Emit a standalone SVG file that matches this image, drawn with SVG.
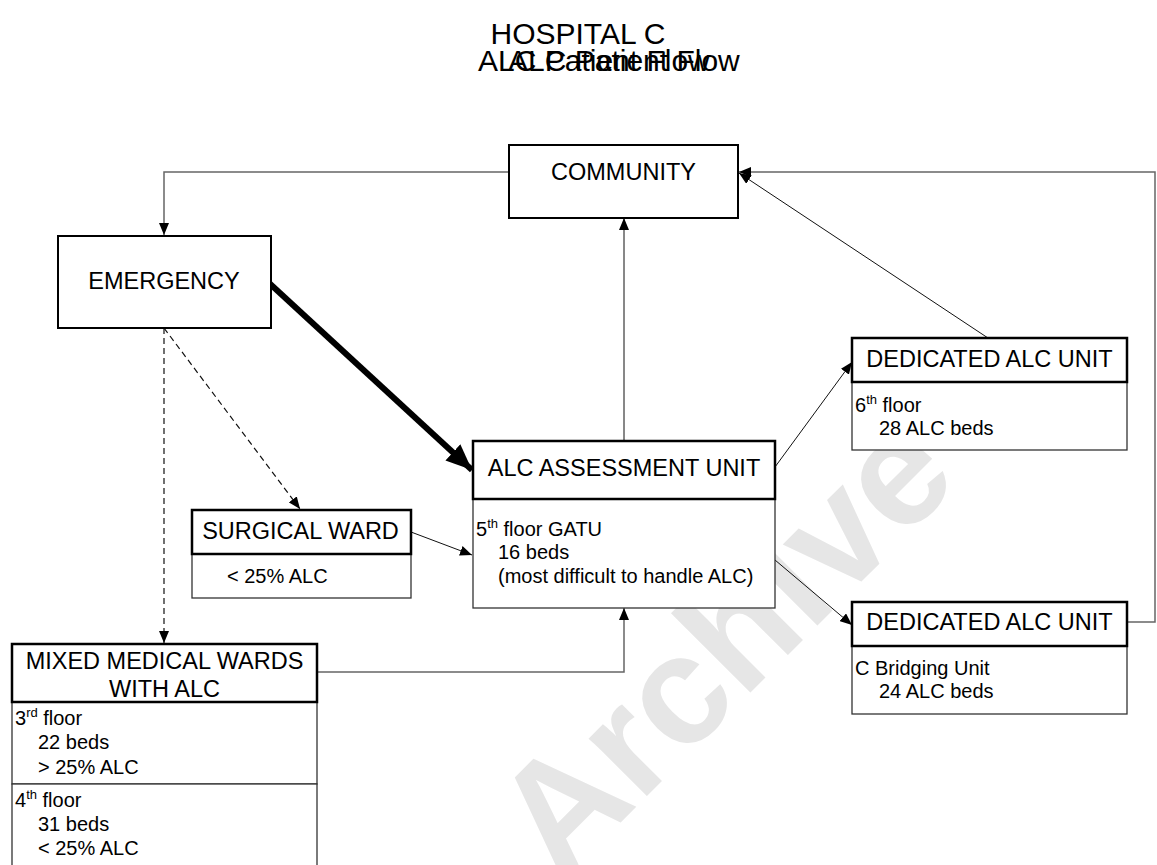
<svg xmlns="http://www.w3.org/2000/svg" width="1157" height="865" viewBox="0 0 1157 865">
  <defs>
    <style>
      text { font-family: "Liberation Sans", Arial, sans-serif; fill: #000; }
      .title { font-size: 30px; }
      .head { font-size: 23.5px; text-anchor: middle; }
      .body { font-size: 20px; }
      .sup { font-size: 13px; }
      .mark { font-family: "Liberation Sans", Arial, sans-serif; font-weight: bold; font-size: 155px; fill: #e6e6e6; }
      .hbox { fill: #fff; stroke: #000; stroke-width: 2.5; }
      .bbox { fill: #fff; stroke: #333; stroke-width: 1.3; }
      .nbox { fill: #fff; stroke: #000; stroke-width: 2; }
      .ln { fill: none; stroke: #111; stroke-width: 1; }
      .gl { fill: none; stroke: #666; stroke-width: 1.5; }
      .dl { fill: none; stroke: #111; stroke-width: 1.2; stroke-dasharray: 6 4; }
      .tk { fill: none; stroke: #000; stroke-width: 6; }
    </style>
    <marker id="arr" markerUnits="userSpaceOnUse" markerWidth="12" markerHeight="10" viewBox="0 0 12 10" refX="12" refY="5" orient="auto">
      <path d="M0,0 L12,5 L0,10 z" fill="#000"/>
    </marker>
    <marker id="arrBig" markerUnits="userSpaceOnUse" markerWidth="26" markerHeight="22" viewBox="0 0 26 22" refX="26" refY="11" orient="auto">
      <path d="M0,0 L26,11 L0,22 z" fill="#000"/>
    </marker>
  </defs>

  <rect width="1157" height="865" fill="#fff"/>

  <!-- background stamp -->
  <text class="mark" transform="translate(560,883) rotate(-45)">Archive</text>

  <!-- heading -->
  <g id="title">
    <text class="title" x="578" y="44" text-anchor="middle">HOSPITAL C</text>
    <text class="title" x="478" y="71">ALC Patient Flow</text>
    <text class="title" x="508" y="71">ALC Patient Flow</text>
  </g>

  <!-- connectors -->
  <g id="connectors">
    <path class="gl" d="M509,172 H164 V235" marker-end="url(#arr)"/>
    <line class="tk" x1="268" y1="282" x2="472" y2="470" marker-end="url(#arrBig)"/>
    <path class="dl" d="M164,328 V643" marker-end="url(#arr)"/>
    <path class="dl" d="M164,328 L300,509" marker-end="url(#arr)"/>
    <line class="ln" x1="411" y1="532" x2="472" y2="555" marker-end="url(#arr)"/>
    <path class="gl" d="M317,672 H624 V608" marker-end="url(#arr)"/>
    <line class="ln" x1="624" y1="441" x2="624" y2="218" marker-end="url(#arr)"/>
    <line class="ln" x1="775" y1="467" x2="852" y2="362" marker-end="url(#arr)"/>
    <line class="ln" x1="988" y1="338" x2="739" y2="173" marker-end="url(#arr)"/>
    <line class="ln" x1="775" y1="560" x2="852" y2="625" marker-end="url(#arr)"/>
    <path class="gl" d="M1127,622 H1155 V172 H739" marker-end="url(#arr)"/>
  </g>

  <g id="community">
    <rect class="nbox" x="509" y="145" width="229" height="73"/>
    <text class="head" x="623.5" y="180">COMMUNITY</text>
  </g>

  <g id="emergency">
    <rect class="nbox" x="58" y="236" width="213" height="92"/>
    <text class="head" x="164" y="289">EMERGENCY</text>
  </g>

  <g id="alc-assessment">
    <rect class="bbox" x="473" y="499" width="302" height="109"/>
    <rect class="hbox" x="473" y="441" width="302" height="58"/>
    <text class="head" x="624" y="476">ALC ASSESSMENT UNIT</text>
    <text class="body" x="476" y="536">5<tspan class="sup" dy="-8">th</tspan><tspan dy="8"> floor GATU</tspan></text>
    <text class="body" x="498" y="559">16 beds</text>
    <text class="body" x="498" y="583">(most difficult to handle ALC)</text>
  </g>

  <g id="surgical-ward">
    <rect class="bbox" x="192" y="554" width="219" height="44"/>
    <rect class="hbox" x="192" y="510" width="219" height="44"/>
    <text class="head" x="300.5" y="539">SURGICAL WARD</text>
    <text class="body" x="227" y="583">&lt; 25% ALC</text>
  </g>

  <g id="mixed-medical">
    <rect class="bbox" x="12" y="702" width="305" height="82"/>
    <rect class="bbox" x="12" y="784" width="305" height="90"/>
    <rect class="hbox" x="12" y="644" width="305" height="58"/>
    <text class="head" x="164.5" y="669">MIXED MEDICAL WARDS</text>
    <text class="head" x="164.5" y="697">WITH ALC</text>
    <text class="body" x="15" y="725">3<tspan class="sup" dy="-8">rd</tspan><tspan dy="8"> floor</tspan></text>
    <text class="body" x="38" y="749">22 beds</text>
    <text class="body" x="38" y="774">&gt; 25% ALC</text>
    <text class="body" x="15" y="807">4<tspan class="sup" dy="-8">th</tspan><tspan dy="8"> floor</tspan></text>
    <text class="body" x="38" y="831">31 beds</text>
    <text class="body" x="38" y="855">&lt; 25% ALC</text>
  </g>

  <g id="dedicated-6th">
    <rect class="bbox" x="852" y="382" width="275" height="68"/>
    <rect class="hbox" x="852" y="338" width="275" height="44"/>
    <text class="head" x="989.5" y="367">DEDICATED ALC UNIT</text>
    <text class="body" x="855" y="412">6<tspan class="sup" dy="-8">th</tspan><tspan dy="8"> floor</tspan></text>
    <text class="body" x="879" y="435">28 ALC beds</text>
  </g>

  <g id="dedicated-bridging">
    <rect class="bbox" x="852" y="646" width="275" height="68"/>
    <rect class="hbox" x="852" y="602" width="275" height="44"/>
    <text class="head" x="989.5" y="630">DEDICATED ALC UNIT</text>
    <text class="body" x="855" y="675">C Bridging Unit</text>
    <text class="body" x="879" y="698">24 ALC beds</text>
  </g>
</svg>
